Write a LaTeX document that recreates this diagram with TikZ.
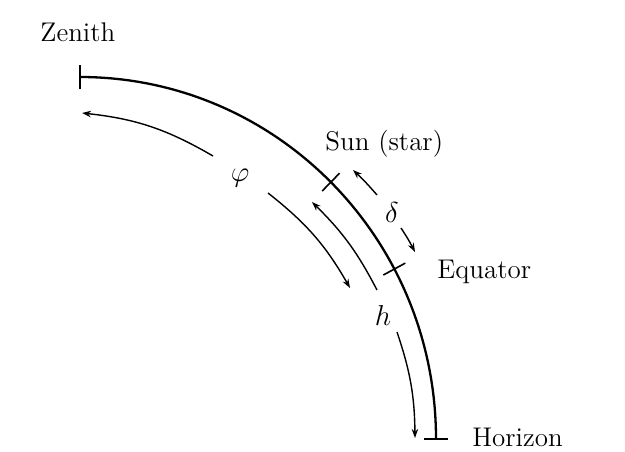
\documentclass[tikz,border=0pt]{standalone}
\usetikzlibrary{calc,arrows.meta}
\begin{document}
\begin{tikzpicture}[x=0.5pt,y=0.5pt,
  every node/.style={font=\fontsize{13.5}{16}\selectfont, inner sep=0pt},
  mainarc/.style={line width=1.15pt},
  tickmark/.style={line width=0.8pt},
  measure/.style={line width=0.7pt, -{Stealth[length=4.5pt,width=3.2pt]}},
  lbl/.style={anchor=base west}]
\useasboundingbox (0,0) rectangle (625,451);
% geometry
\coordinate (C) at (80,12);
\coordinate (Z) at (80,374);
\coordinate (H) at (436,12);
\coordinate (S) at ($(C)+(45.2:356 and 362)$);
\coordinate (E) at ($(C)+(28:356 and 362)$);
\draw[mainarc] (Z) arc[start angle=90,end angle=0,x radius=356,y radius=362];
% ticks
\draw[tickmark] ($(Z)+(0,-12)$) -- ($(Z)+(0,12)$);
\draw[tickmark] ($(H)+(-12,0)$) -- ($(H)+(12,0)$);
\draw[tickmark] ($(S)!6.25pt!(C)$) -- ($(S)!-6.25pt!(C)$);
\draw[tickmark] ($(E)!6.25pt!(C)$) -- ($(E)!-6.25pt!(C)$);
% measurement arrows
\coordinate (p1s) at (213,295); \coordinate (p1e) at (82,338);
\coordinate (p2s) at (268,258); \coordinate (p2e) at (350,163);
\coordinate (h1s) at (377,161); \coordinate (h1e) at (312,249);
\coordinate (h2s) at (397,119); \coordinate (h2e) at (415,13);
\coordinate (d1s) at (377,256); \coordinate (d1e) at (353,281);
\coordinate (d2s) at (401,223); \coordinate (d2e) at (415,199);
\draw[measure] (p1s) to[bend right=12] (p1e);
\draw[measure] (p2s) to[bend left=11] (p2e);
\draw[measure] (h1s) to[bend right=9] (h1e);
\draw[measure] (h2s) to[bend left=9] (h2e);
\draw[measure] (d1s) to[bend right=3] (d1e);
\draw[measure] (d2s) to[bend left=3] (d2e);
% labels
\node[lbl] (zen) at (40,409) {Zenith};
\node[lbl] (sun) at (325,301) {Sun (star)};
\node[lbl] (equ) at (437,173) {Equator};
\node[lbl] (hor) at (472,5) {Horizon};
\node (phi) at (240,273) {$\varphi$};
\node (del) at (392,239) {$\delta$};
\node (hh) at (383,136) {$h$};
\end{tikzpicture}
\end{document}
